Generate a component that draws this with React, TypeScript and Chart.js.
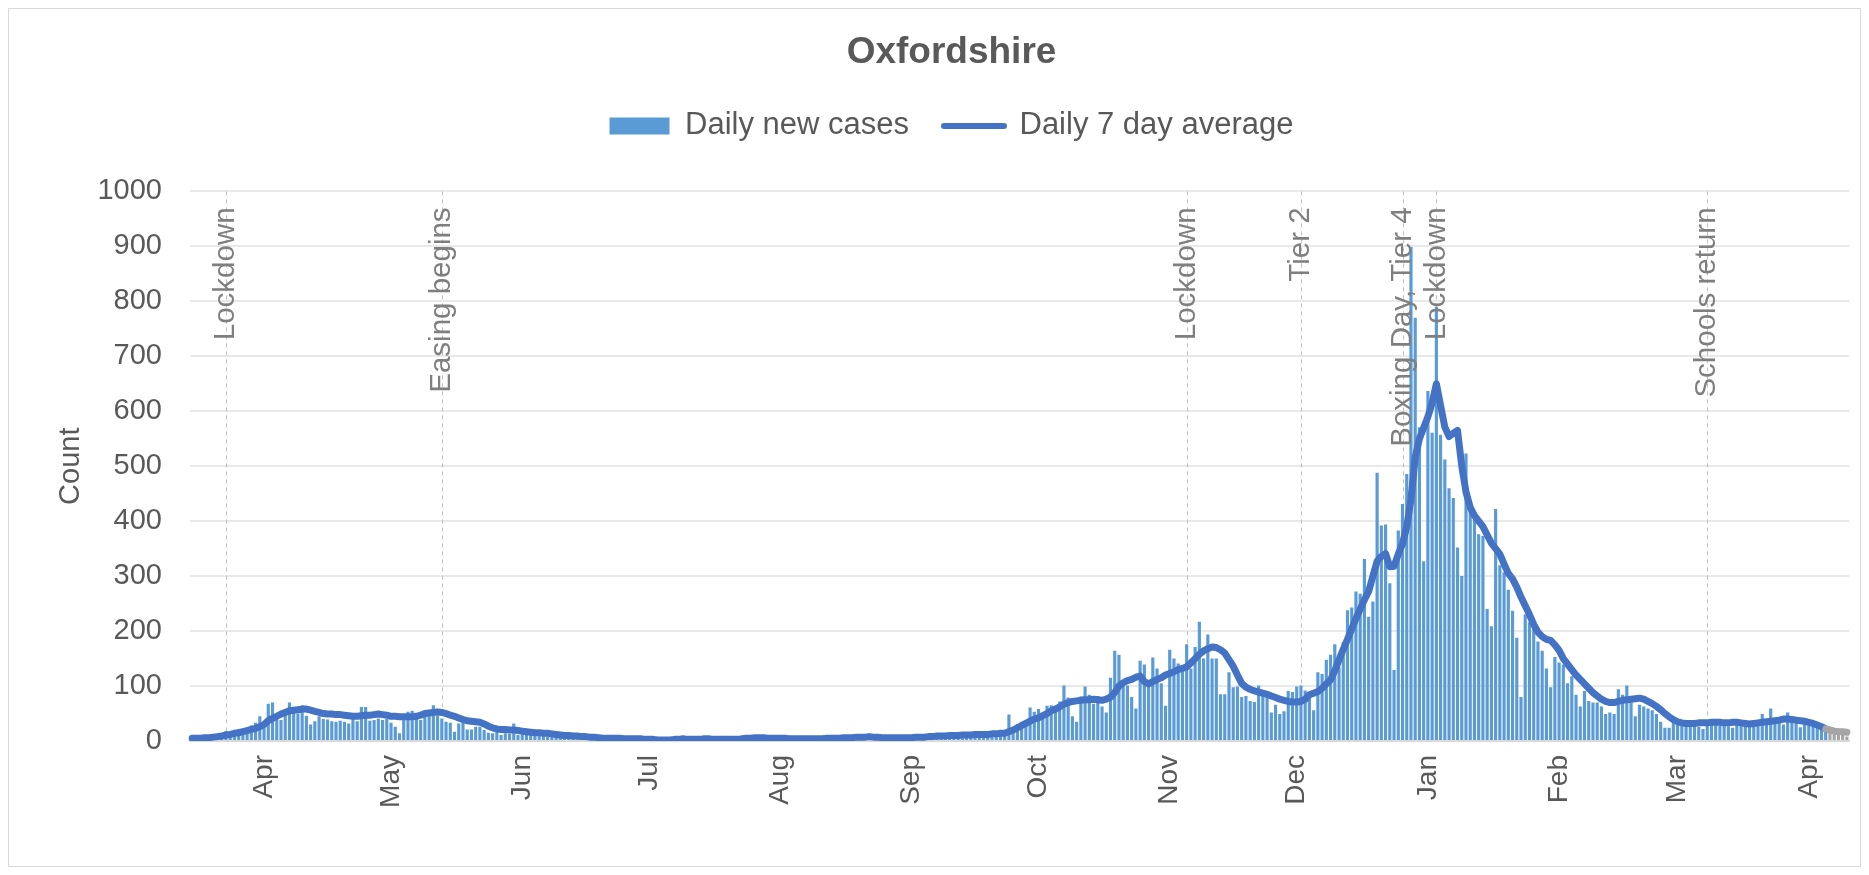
import React, { useEffect, useRef } from 'react';
import { Chart, registerables } from 'chart.js';

Chart.register(...registerables);

const FONT = '"Liberation Sans", Arial, Helvetica, sans-serif';
const TEXT = '#595959';
const NOTE = '#7f7f7f';
const BAR_BLUE = '#5b9bd5';
const LINE_BLUE = '#4472c4';
const GREY = '#a5a5a5';

const START_DATE = '2020-03-15';
const MONTH_NAMES = ['Jan', 'Feb', 'Mar', 'Apr', 'May', 'Jun', 'Jul', 'Aug', 'Sep', 'Oct', 'Nov', 'Dec'];
const Y_TICKS = [0, 100, 200, 300, 400, 500, 600, 700, 800, 900, 1000];

// Daily new cases, one array per month
const casesMar20 = [2, 3, 3, 5, 4, 6, 5, 8, 18, 14, 17, 22, 19, 24, 28, 33, 45];
const casesApr20 = [30, 68, 70, 40, 38, 50, 70, 52, 50, 65, 46, 30, 36, 45, 40, 39, 36, 35, 37, 35, 32, 44, 36, 62, 62, 37, 38, 41, 38, 40];
const casesMay20 = [33, 26, 14, 38, 53, 55, 44, 38, 44, 50, 65, 47, 41, 35, 33, 17, 32, 39, 21, 21, 26, 26, 20, 15, 14, 17, 11, 14, 13, 32, 11];
const casesJun20 = [16, 12, 14, 10, 9, 13, 8, 11, 12, 9, 7, 10, 8, 6, 9, 7, 5, 7, 4, 5, 6, 3, 4, 5, 3, 4, 2, 3, 4, 2];
const casesJul20 = [2, 1, 3, 2, 1, 2, 4, 1, 2, 1, 3, 2, 1, 2, 3, 1, 2, 4, 3, 2, 5, 3, 2, 4, 3, 2, 1, 3, 2, 4, 3];
const casesAug20 = [4, 6, 3, 5, 7, 4, 5, 3, 6, 4, 5, 7, 5, 4, 6, 8, 5, 7, 9, 6, 8, 7, 5, 6, 4, 5, 7, 5, 4, 6, 5];
const casesSep20 = [6, 8, 7, 9, 10, 8, 7, 11, 9, 12, 10, 13, 9, 8, 12, 14, 11, 15, 13, 10, 16, 14, 18, 48, 21, 31, 35, 29, 61, 53];
const casesOct20 = [58, 50, 64, 65, 62, 72, 101, 79, 45, 35, 81, 99, 84, 68, 82, 63, 52, 115, 164, 157, 105, 101, 80, 59, 146, 139, 111, 152, 132, 105, 64];
const casesNov20 = [166, 150, 141, 129, 176, 132, 171, 217, 150, 194, 150, 150, 85, 85, 125, 98, 99, 80, 82, 73, 71, 101, 91, 87, 52, 66, 49, 54, 91, 89];
const casesDec20 = [99, 101, 92, 78, 56, 125, 122, 148, 157, 176, 134, 180, 238, 243, 272, 268, 331, 226, 254, 488, 392, 394, 287, 129, 383, 431, 486, 899, 770, 571, 327];
const casesJan21 = [637, 561, 790, 557, 512, 460, 442, 352, 300, 523, 425, 408, 376, 373, 240, 209, 422, 320, 307, 275, 237, 188, 80, 230, 216, 209, 181, 164, 132, 98, 153];
const casesFeb21 = [143, 139, 105, 118, 84, 63, 91, 73, 70, 70, 63, 49, 52, 49, 94, 84, 101, 70, 45, 66, 63, 59, 56, 49, 35, 24, 24, 35];
const casesMar21 = [35, 31, 28, 35, 30, 26, 22, 33, 30, 35, 28, 31, 27, 24, 34, 32, 29, 33, 26, 30, 49, 31, 59, 36, 33, 30, 52, 38, 34, 25, 36];
const casesApr21 = [34, 30, 28, 22, 24, 18, 14, 16, 12, 8];

// Daily 7 day average, one array per month
const avgMar20 = [5, 5, 5, 6, 6, 7, 8, 9, 11, 12, 14, 15, 17, 19, 21, 23, 26];
const avgApr20 = [30, 37, 41, 45, 49, 52, 55, 56, 57, 58, 58, 56, 54, 52, 50, 49, 49, 48, 48, 47, 46, 45, 45, 46, 47, 47, 48, 49, 48, 47];
const avgMay20 = [45, 45, 44, 44, 44, 44, 45, 47, 50, 51, 52, 53, 52, 50, 47, 45, 42, 39, 37, 36, 35, 34, 31, 27, 24, 22, 21, 21, 20, 20, 19];
const avgJun20 = [18, 17, 16, 15, 15, 14, 14, 13, 12, 11, 10, 10, 9, 9, 8, 8, 7, 7, 6, 5, 5, 5, 5, 5, 4, 4, 4, 4, 4, 3];
const avgJul20 = [3, 3, 2, 2, 2, 2, 3, 3, 4, 3, 3, 3, 3, 4, 4, 3, 3, 3, 3, 3, 3, 3, 4, 5, 5, 6, 6, 6, 5, 5, 5];
const avgAug20 = [5, 5, 4, 4, 4, 4, 4, 4, 4, 4, 4, 5, 5, 5, 5, 6, 6, 6, 7, 7, 7, 8, 7, 7, 6, 6, 6, 6, 6, 6, 6];
const avgSep20 = [6, 7, 7, 7, 8, 8, 9, 9, 9, 10, 10, 10, 11, 11, 11, 12, 12, 12, 12, 13, 13, 14, 14, 17, 20, 24, 28, 32, 36, 40];
const avgOct20 = [42, 46, 50, 55, 58, 62, 67, 70, 72, 73, 74, 75, 75, 76, 75, 74, 76, 80, 88, 100, 106, 110, 112, 116, 118, 108, 104, 108, 112, 115, 120];
const avgNov20 = [123, 126, 130, 132, 135, 142, 150, 158, 164, 168, 171, 170, 166, 160, 148, 136, 120, 105, 98, 94, 91, 89, 87, 85, 82, 79, 76, 74, 72, 71];
const avgDec20 = [71, 72, 76, 84, 87, 90, 96, 104, 111, 128, 148, 167, 185, 204, 223, 240, 257, 272, 300, 327, 336, 341, 317, 318, 340, 359, 390, 440, 516, 550, 570];
const avgJan21 = [590, 615, 650, 610, 571, 554, 560, 565, 500, 453, 425, 410, 400, 390, 375, 360, 350, 340, 322, 305, 295, 280, 262, 246, 230, 212, 198, 190, 185, 183, 175];
const avgFeb21 = [165, 150, 140, 130, 120, 112, 104, 96, 88, 82, 76, 72, 70, 70, 72, 74, 75, 76, 77, 78, 76, 72, 68, 63, 57, 50, 44, 39];
const avgMar21 = [35, 33, 32, 32, 32, 33, 33, 33, 34, 34, 34, 33, 33, 34, 34, 33, 32, 31, 32, 33, 34, 35, 36, 37, 38, 40, 40, 39, 38, 37, 36];
const avgApr21 = [34, 32, 29, 26, 22, 20, 18, 17, 17, 16];

// Events marked with dashed vertical lines
const EVENT_DATES = ['2020-03-23', '2020-05-13', '2020-11-05', '2020-12-02', '2020-12-26', '2021-01-03', '2021-03-08'];
const EVENT_LABELS = ['Lockdown', 'Easing begins', 'Lockdown', 'Tier 2', 'Boxing Day, Tier 4', 'Lockdown', 'Schools return'];

// The last few days are incomplete (drawn grey)
const INCOMPLETE_DAYS = 5;

const dailyCases = [
  ...casesMar20, ...casesApr20, ...casesMay20, ...casesJun20, ...casesJul20, ...casesAug20, ...casesSep20,
  ...casesOct20, ...casesNov20, ...casesDec20, ...casesJan21, ...casesFeb21, ...casesMar21, ...casesApr21,
];
const sevenDayAverage = [
  ...avgMar20, ...avgApr20, ...avgMay20, ...avgJun20, ...avgJul20, ...avgAug20, ...avgSep20,
  ...avgOct20, ...avgNov20, ...avgDec20, ...avgJan21, ...avgFeb21, ...avgMar21, ...avgApr21,
];

const DAY_MS = 86400000;
const startMs = Date.parse(START_DATE + 'T00:00:00Z');
const categories = dailyCases.map((_, i) => new Date(startMs + i * DAY_MS).toISOString().slice(0, 10));
const eventIndex = EVENT_DATES.map((d) => categories.indexOf(d));
const firstIncomplete = dailyCases.length - INCOMPLETE_DAYS;
const barColors = dailyCases.map((_, i) => (i >= firstIncomplete ? GREY : BAR_BLUE));

const eventPlugin = {
  id: 'eventLines',
  beforeDatasetsDraw(chart: any) {
    const { ctx, chartArea, scales } = chart;
    ctx.save();
    ctx.strokeStyle = '#bfbfbf';
    ctx.lineWidth = 1;
    ctx.setLineDash([4, 4]);
    eventIndex.forEach((idx) => {
      const x = Math.round(scales.x.getPixelForValue(idx)) + 0.5;
      ctx.beginPath();
      ctx.moveTo(x, chartArea.top);
      ctx.lineTo(x, chartArea.bottom);
      ctx.stroke();
    });
    ctx.restore();
  },
  afterDatasetsDraw(chart: any) {
    const { ctx, chartArea, scales } = chart;
    ctx.save();
    ctx.fillStyle = NOTE;
    ctx.font = '29.5px ' + FONT;
    ctx.textAlign = 'right';
    ctx.textBaseline = 'middle';
    eventIndex.forEach((idx, k) => {
      const x = scales.x.getPixelForValue(idx);
      ctx.save();
      ctx.translate(x, chartArea.top + 16);
      ctx.rotate(-Math.PI / 2);
      ctx.fillText(EVENT_LABELS[k], 0, 0);
      ctx.restore();
    });
    ctx.restore();
  },
};

export default function App() {
  const ref = useRef<HTMLCanvasElement>(null);

  useEffect(() => {
    const canvas = ref.current;
    if (!canvas) return;
    Chart.defaults.font.family = FONT;
    const chart = new Chart(canvas, {
      type: 'bar',
      data: {
        labels: categories,
        datasets: [
          {
            type: 'line',
            label: 'Daily 7 day average',
            data: sevenDayAverage,
            borderColor: LINE_BLUE,
            backgroundColor: LINE_BLUE,
            borderWidth: 7,
            pointRadius: 0,
            pointHoverRadius: 0,
            tension: 0,
            borderJoinStyle: 'round',
            borderCapStyle: 'round',
            fill: false,
            order: 1,
            xAxisID: 'x',
            yAxisID: 'y',
            segment: {
              borderColor: (c: any) => (c.p1DataIndex >= firstIncomplete ? GREY : LINE_BLUE),
            },
          } as any,
          {
            type: 'bar',
            label: 'Daily new cases',
            data: dailyCases,
            backgroundColor: barColors,
            borderWidth: 0,
            barPercentage: 0.75,
            categoryPercentage: 1,
            order: 2,
            xAxisID: 'x',
            yAxisID: 'y',
          },
        ],
      },
      options: {
        animation: false,
        responsive: true,
        maintainAspectRatio: false,
        events: [],
        layout: { padding: { left: 45, right: 11, top: 0, bottom: 0 } },
        plugins: {
          tooltip: { enabled: false },
          title: {
            display: true,
            text: 'Oxfordshire',
            color: TEXT,
            font: { size: 37, weight: 'bold', family: FONT },
            padding: { top: 22, bottom: 0 },
          },
          legend: {
            position: 'top',
            labels: {
              usePointStyle: true,
              pointStyleWidth: 60,
              boxHeight: 17,
              padding: 35,
              color: TEXT,
              font: { size: 31, family: FONT },
              generateLabels: () => [
                {
                  text: 'Daily new cases',
                  fillStyle: BAR_BLUE,
                  strokeStyle: BAR_BLUE,
                  lineWidth: 0,
                  pointStyle: 'rect',
                  datasetIndex: 1,
                  hidden: false,
                  fontColor: TEXT,
                },
                {
                  text: 'Daily 7 day average',
                  fillStyle: LINE_BLUE,
                  strokeStyle: LINE_BLUE,
                  lineWidth: 6,
                  lineCap: 'round',
                  pointStyle: 'line',
                  datasetIndex: 0,
                  hidden: false,
                  fontColor: TEXT,
                },
              ],
            },
          },
        },
        scales: {
          x: {
            type: 'category',
            offset: true,
            grid: { display: false, drawTicks: false },
            border: { display: true, color: '#d9d9d9', width: 2 },
            ticks: {
              autoSkip: false,
              maxRotation: 90,
              minRotation: 90,
              padding: 14,
              color: TEXT,
              font: { size: 28, family: FONT },
              callback: (_v: any, i: number) => {
                const d = new Date(categories[i] + 'T00:00:00Z');
                return d.getUTCDate() === 1 ? MONTH_NAMES[d.getUTCMonth()] : '';
              },
            },
            afterFit: (s: any) => {
              s.height = 125;
              s.paddingLeft = 0;
              s.paddingRight = 0;
            },
          },
          xTop: {
            type: 'linear',
            position: 'top',
            display: true,
            grid: { display: false, drawTicks: false },
            border: { display: false },
            ticks: { display: false },
            afterFit: (s: any) => {
              s.height = 40;
              s.paddingLeft = 0;
              s.paddingRight = 0;
            },
          },
          y: {
            min: 0,
            max: 1000,
            afterBuildTicks: (s: any) => {
              s.ticks = Y_TICKS.map((v) => ({ value: v }));
            },
            grid: { color: '#e9e9e9', lineWidth: 2, drawTicks: false },
            border: { display: false },
            ticks: {
              color: TEXT,
              padding: 28,
              font: { size: 29, family: FONT },
              callback: (v: any) => String(v),
            },
            title: {
              display: true,
              text: 'Count',
              color: TEXT,
              font: { size: 29, family: FONT },
              padding: { top: 0, bottom: 0 },
            },
            afterFit: (s: any) => {
              s.width = 136;
            },
          },
        },
      },
      plugins: [eventPlugin],
    } as any);
    return () => chart.destroy();
  }, []);

  return (
    <div
      style={{
        width: 1851,
        height: 857,
        border: '1px solid #d9d9d9',
        position: 'relative',
        background: '#ffffff',
      }}
    >
      <canvas ref={ref} />
    </div>
  );
}
